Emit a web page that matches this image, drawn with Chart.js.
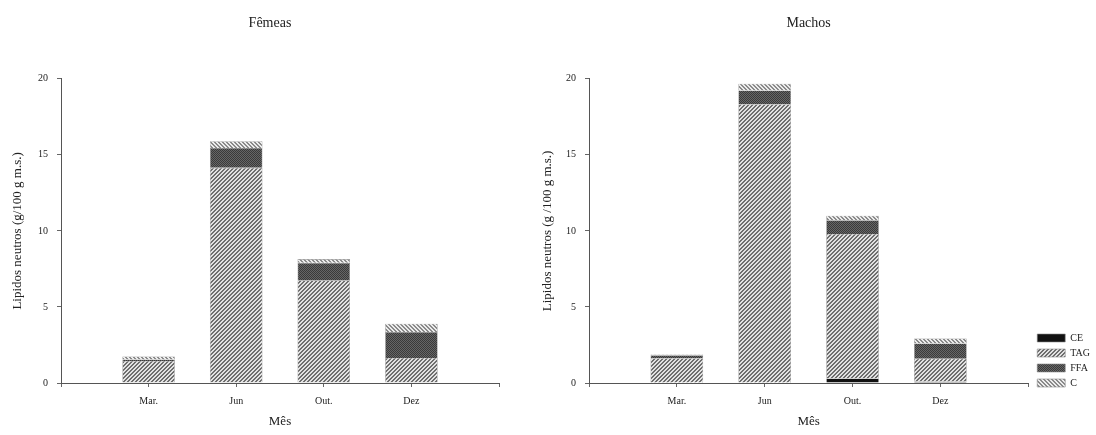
<!DOCTYPE html>
<html>
<head>
<meta charset="utf-8">
<script src="https://cdn.jsdelivr.net/npm/chart.js@4/dist/chart.umd.min.js"></script>
<style>
    body { margin: 0; background: #fff; }
    .panel { position: absolute; top: 0; height: 435px; }
    #left { left: 0; width: 540px; }
    #right { left: 540px; width: 556px; }
</style>
</head>
<body>
<div class="panel" id="left"><canvas id="femeas"></canvas></div>
<div class="panel" id="right"><canvas id="machos"></canvas></div>
<script>
// data (g/100 g m.s.), blank slots at both ends of the axis
const months = ['', 'Mar.', 'Jun', 'Out.', 'Dez', ''];
const yTicks = [0, 5, 10, 15, 20];

const ceFem  = [null, 0.05, 0.05, 0.05, 0.05, null];
const tagFem = [null, 1.4, 14.1, 6.7, 1.6, null];
const ffaFem = [null, 0.1, 1.3, 1.15, 1.7, null];
const cFem   = [null, 0.2, 0.45, 0.25, 0.55, null];

const ceMac  = [null, 0.03, 0.03, 0.3, 0.1, null];
const tagMac = [null, 1.6, 18.3, 9.5, 1.5, null];
const ffaMac = [null, 0.2, 0.9, 0.9, 1.0, null];
const cMac   = [null, 0.05, 0.45, 0.3, 0.33, null];

const serif = "'Liberation Serif', 'DejaVu Serif', serif";

// small tiles used as bar fills
function tile(paint) {
    const c = document.createElement('canvas');
    c.width = 4; c.height = 4;
    const g = c.getContext('2d');
    for (let x = 0; x < 4; x++) {
        for (let y = 0; y < 4; y++) {
            g.fillStyle = paint(x, y);
            g.fillRect(x, y, 1, 1);
        }
    }
    return g.createPattern(c, 'repeat');
}
const tagFill = tile((x, y) => ((x + y) % 4 < 2) ? '#6e6e6e' : '#e2e2e2');
const cFill   = tile((x, y) => ((x - y + 8) % 4 < 2) ? '#8a8a8a' : '#ececec');
const ffaFill = tile((x, y) => ((x + y) % 2 === 0) ? '#3a3a3a' : '#666666');
const ceFill  = '#111';

function makeSets(ce, tag, ffa, c) {
    const base = { borderColor: '#8c8c8c', borderWidth: 0.6, categoryPercentage: 0.6, barPercentage: 1 };
    return [
        Object.assign({ label: 'CE',  data: ce,  backgroundColor: ceFill }, base),
        Object.assign({ label: 'TAG', data: tag, backgroundColor: tagFill }, base),
        Object.assign({ label: 'FFA', data: ffa, backgroundColor: ffaFill }, base),
        Object.assign({ label: 'C',   data: c,   backgroundColor: cFill }, base)
    ];
}

// nudge the legend box down/right a little, to sit next to the axis end
const legendNudge = {
    id: 'legendNudge',
    afterLayout(chart) {
        const lg = chart.legend;
        if (!lg || !lg.options.display) return;
        lg.top += 10; lg.bottom += 10;
        lg.left += 4; lg.right += 4;
    }
};

function makeOptions(title, yTitle, yWidth, yTitlePad, showLegend) {
    const scales = {
        x: {
            stacked: true,
            offset: false,
            grid: { display: true, drawOnChartArea: false, drawTicks: true, tickLength: 4, color: '#666', offset: false },
            border: { color: '#555', width: 1 },
            ticks: { font: { family: serif, size: 10 }, color: '#222', padding: 8, autoSkip: false, maxRotation: 0 },
            title: { display: true, text: 'Mês', font: { family: serif, size: 13 }, color: '#222', padding: { top: 0, bottom: 0 } },
            afterFit: (s) => { s.height = 46; }
        },
        y: {
            stacked: true,
            min: 0,
            max: 20,
            afterBuildTicks: (s) => { s.ticks = yTicks.map(v => ({ value: v })); },
            grid: { display: true, drawOnChartArea: false, drawTicks: true, tickLength: 4, color: '#666' },
            border: { color: '#555', width: 1 },
            ticks: { font: { family: serif, size: 10 }, color: '#222', padding: 9 },
            title: { display: true, text: yTitle, font: { family: serif, size: 13 }, color: '#222', padding: { top: yTitlePad, bottom: 0 } },
            afterFit: (s) => { s.width = yWidth; }
        }
    };
    if (!showLegend) {
        // empty right-hand spacer so the plot ends where the original does
        scales.spacer = {
            type: 'linear', position: 'right', display: true,
            grid: { display: false }, border: { display: false },
            ticks: { display: false },
            afterFit: (s) => { s.width = 41; }
        };
    }
    return {
        responsive: true,
        maintainAspectRatio: false,
        animation: false,
        layout: { padding: { left: 0, right: 0, top: 0, bottom: 6 } },
        scales: scales,
        plugins: {
            tooltip: { enabled: false },
            title: {
                display: true, text: title, fullSize: !showLegend,
                font: { family: serif, size: 14, weight: 'normal' }, color: '#222',
                padding: { top: 15, bottom: 47 }
            },
            legend: {
                display: showLegend,
                position: 'right',
                align: 'end',
                fullSize: false,
                labels: {
                    boxWidth: 28,
                    boxHeight: 8,
                    padding: 5,
                    color: '#222',
                    font: { family: serif, size: 10 }
                }
            }
        }
    };
}

new Chart(document.getElementById('femeas'), {
    type: 'bar',
    data: { labels: months, datasets: makeSets(ceFem, tagFem, ffaFem, cFem) },
    options: makeOptions('Fêmeas', 'Lipidos neutros (g/100 g m.s.)', 61, 10, false)
});

new Chart(document.getElementById('machos'), {
    type: 'bar',
    data: { labels: months, datasets: makeSets(ceMac, tagMac, ffaMac, cMac) },
    options: makeOptions('Machos', 'Lipidos neutros (g /100 g m.s.)', 49, 0, true),
    plugins: [legendNudge]
});
</script>
</body>
</html>
